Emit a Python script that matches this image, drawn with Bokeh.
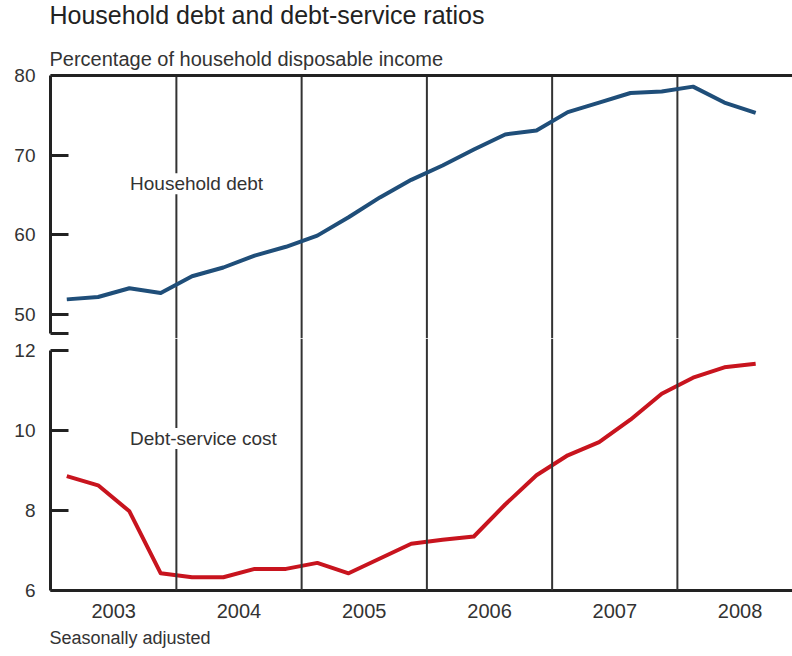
from bokeh.plotting import figure
from bokeh.models import (Range1d, Span, Label, Title, FixedTicker, ColumnDataSource)
from bokeh.layouts import column
from bokeh.embed import file_html
from bokeh.resources import INLINE

# ---------------- data ----------------
quarters = ["2003Q1", "2003Q2", "2003Q3", "2003Q4",
            "2004Q1", "2004Q2", "2004Q3", "2004Q4",
            "2005Q1", "2005Q2", "2005Q3", "2005Q4",
            "2006Q1", "2006Q2", "2006Q3", "2006Q4",
            "2007Q1", "2007Q2", "2007Q3", "2007Q4",
            "2008Q1", "2008Q2", "2008Q3"]
household_debt = [51.9, 52.2, 53.3, 52.7,
                  54.8, 55.9, 57.4, 58.5,
                  59.9, 62.2, 64.7, 66.9,
                  68.7, 70.7, 72.6, 73.1,
                  75.4, 76.6, 77.8, 78.0,
                  78.6, 76.6, 75.3]
debt_service = [8.86, 8.63, 7.98, 6.43,
                6.33, 6.33, 6.54, 6.54,
                6.69, 6.43, 6.80, 7.17,
                7.27, 7.35, 8.15, 8.88,
                9.38, 9.71, 10.27, 10.92,
                11.32, 11.58, 11.67]
years = [2003, 2004, 2005, 2006, 2007, 2008]
debt_ticks = [50, 60, 70, 80]
service_ticks = [6, 8, 10, 12]

title_text = "Household debt and debt-service ratios"
subtitle_text = "Percentage of household disposable income"
footnote_text = "Seasonally adjusted"

# quarter mid-points as decimal years
xq = [int(q[:4]) + (int(q[-1]) - 0.5) / 4 for q in quarters]

FONT = "Liberation Sans"
TXT = "#333333"
AX = "#222222"
BLUE = "#1f4e79"
RED = "#c8141e"

W = 792
x_range = Range1d(2002.995, 2008.919)
debt_top, debt_low = 80, 47.6          # top panel axis extent (broken below 50)
y1 = Range1d(46.99, 89.41)             # top panel incl. room for the titles
y2 = Range1d(6.0, 12.3)

# ---------------- top panel ----------------
p1 = figure(width=W, height=338, x_range=x_range, y_range=y1,
            output_backend="svg", toolbar_location=None, x_axis_location=None,
            title_location=None, min_border_left=50, min_border_right=0,
            min_border_bottom=0, min_border_top=0)

# ---------------- bottom panel ----------------
p2 = figure(width=W, height=318, x_range=x_range, y_range=y2,
            output_backend="svg", toolbar_location=None, title_location=None,
            min_border_left=50, min_border_right=0, min_border_top=0,
            min_border_bottom=66)
p2.add_layout(Title(text=footnote_text, text_font=FONT, text_font_size="18px",
                    text_font_style="normal", text_color=TXT, standoff=10,
                    offset=-1), "below")

for p in (p1, p2):
    p.outline_line_color = None
    p.grid.visible = False
    p.background_fill_color = "white"
    p.border_fill_color = "white"
    yax = p.yaxis[0]
    yax.major_tick_in = 18
    yax.major_tick_out = 0
    yax.minor_tick_line_color = None
    yax.major_tick_line_width = 3
    yax.major_tick_line_color = AX
    yax.axis_line_width = 3
    yax.axis_line_color = AX
    yax.major_label_standoff = 15
    yax.major_label_text_font = FONT
    yax.major_label_text_font_size = "19px"
    yax.major_label_text_color = TXT

# year separators: up to the top rule in the upper panel, full height below
sep = years[1:]
p1.segment(x0=sep, y0=[y1.start - 1] * len(sep), x1=sep, y1=[debt_top] * len(sep),
           line_color="#333333", line_width=2)
for yr in sep:
    p2.add_layout(Span(location=yr, dimension="height", line_color="#333333",
                       line_width=2))

# top axis: broken at the bottom
p1.yaxis[0].bounds = (debt_low, debt_top)
p1.yaxis[0].ticker = FixedTicker(ticks=[debt_low] + debt_ticks)
p1.yaxis[0].major_label_overrides = {debt_low: ""}
p1.add_layout(Span(location=debt_top, dimension="width", line_color=AX, line_width=3))

p2.yaxis[0].bounds = (6, 12)
p2.yaxis[0].ticker = FixedTicker(ticks=service_ticks)

xax = p2.xaxis[0]
xax.ticker = FixedTicker(ticks=[y + 0.5 for y in years])
xax.major_label_overrides = {y + 0.5: str(y) for y in years}
xax.major_tick_line_color = None
xax.minor_tick_line_color = None
xax.axis_line_width = 3
xax.axis_line_color = AX
xax.major_label_standoff = 7
xax.major_label_text_font = FONT
xax.major_label_text_font_size = "20px"
xax.major_label_text_color = TXT

# ---------------- series ----------------
src = ColumnDataSource(dict(x=xq, debt=household_debt, service=debt_service))
p1.line("x", "debt", source=src, line_color=BLUE, line_width=4, line_join="round")
p2.line("x", "service", source=src, line_color=RED, line_width=4, line_join="round")

# ---------------- texts ----------------
x_left = x_range.start - 0.008
p1.add_layout(Label(x=x_left, y=87.54, text=title_text, text_font=FONT,
                    text_font_size="25px", text_color="#222222",
                    text_baseline="alphabetic"))
p1.add_layout(Label(x=x_left, y=82.13, text=subtitle_text, text_font=FONT,
                    text_font_size="20px", text_color=TXT,
                    text_baseline="alphabetic"))
p1.add_layout(Label(x=2003.63, y=66.4, text="Household debt", text_baseline="middle",
                    text_font=FONT, text_font_size="19px", text_color=TXT,
                    background_fill_color="white"))
p2.add_layout(Label(x=2003.63, y=9.8, text="Debt-service cost", text_baseline="middle",
                    text_font=FONT, text_font_size="19px", text_color=TXT,
                    background_fill_color="white"))

layout = column(p1, p2, spacing=0)
open("out.html", "w").write(file_html(layout, INLINE))
